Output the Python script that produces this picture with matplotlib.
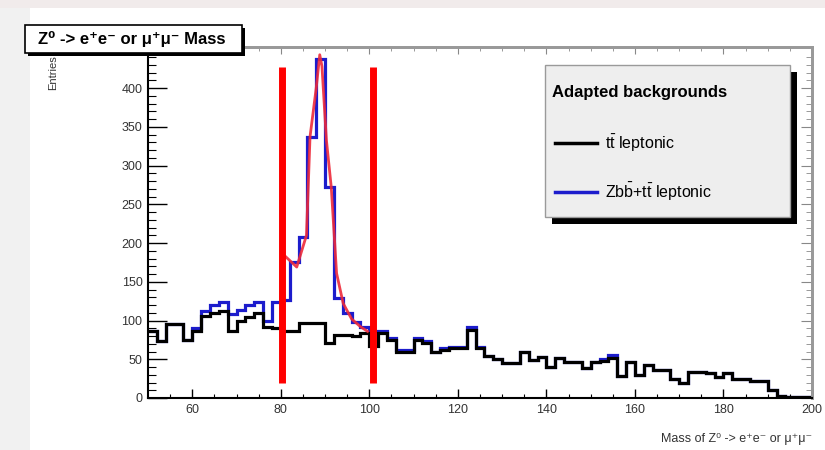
import numpy as np
import matplotlib
matplotlib.use("Agg")
import matplotlib.pyplot as plt
from matplotlib.patches import Rectangle
from matplotlib.lines import Line2D

plt.rcParams['font.family'] = ['Liberation Sans', 'DejaVu Sans']
plt.rcParams['mathtext.fontset'] = 'custom'
plt.rcParams['mathtext.rm'] = 'Liberation Sans'
plt.rcParams['mathtext.it'] = 'Liberation Sans:italic'
plt.rcParams['mathtext.bf'] = 'Liberation Sans:bold'

# ---- histogram binning (GeV) ----
mass_low, mass_high, n_bins = 50, 200, 75

# ttbar leptonic background, entries per 2 GeV bin
ttbar = [86, 73, 96, 96, 75, 86, 106, 110, 112, 86,
         100, 104, 110, 92, 90, 86, 86, 97, 97, 97,
         71, 81, 81, 80, 84, 67, 84, 75, 60, 60,
         75, 71, 59, 62, 64, 64, 88, 64, 54, 50,
         45, 45, 59, 49, 53, 40, 52, 47, 46, 39,
         47, 48, 52, 28, 46, 30, 42, 36, 36, 24,
         20, 34, 33, 32, 27, 32, 25, 25, 22, 22,
         10, 2, 1, 1, 1]

# Zbb + ttbar leptonic (stacked total), entries per 2 GeV bin
zbb_plus_ttbar = [86, 73, 96, 96, 75, 90, 112, 120, 124, 108,
                  114, 120, 124, 100, 124, 126, 175, 208, 337, 437,
                  272, 129, 110, 98, 92, 86, 86, 77, 62, 62,
                  78, 73, 60, 64, 66, 66, 92, 66, 54, 50,
                  45, 45, 59, 49, 53, 40, 52, 47, 46, 39,
                  47, 50, 55, 28, 46, 30, 42, 36, 36, 24,
                  20, 34, 33, 32, 27, 32, 25, 25, 22, 22,
                  10, 2, 1, 1, 1]

# Z peak fit curve
fit_mass = [80.8, 83.6, 85.8, 86.6, 88.0, 88.8, 89.3, 90.3, 91.4, 92.6, 94.1, 96.0, 98.0, 99.6]
fit_counts = [184, 169, 210, 337, 400, 443, 428, 333, 272, 161, 122, 102, 92, 86]

# mass window markers
window_edges = [80.3, 100.8]
window_span = [20, 427]

x_ticks = [60, 80, 100, 120, 140, 160, 180, 200]
y_ticks = [0, 50, 100, 150, 200, 250, 300, 350, 400]

W, H = 825, 450
fig = plt.figure(figsize=(W / 100, H / 100), dpi=100)
fig.patch.set_facecolor('white')


def fx(px):
    return px / W


def fy(py):
    return 1 - py / H


def box(x0, y0, x1, y1, **kw):
    fig.add_artist(Rectangle((fx(x0), fy(y1)), (x1 - x0) / W, (y1 - y0) / H,
                             transform=fig.transFigure, **kw))


# page margins
box(0, 0, 30, 450, fc='#f1f1f1', ec='none', zorder=-5)
box(0, 0, 825, 8, fc='#f1ebeb', ec='none', zorder=-5)

ax = fig.add_axes([fx(148), fy(398), (812 - 148) / W, (398 - 47) / H])
edges = np.linspace(mass_low, mass_high, n_bins + 1)
ax.stairs(zbb_plus_ttbar, edges, baseline=None, color='#1c1ccc', lw=2.3)
ax.stairs(ttbar, edges, baseline=None, color='black', lw=2.3)
ax.plot(fit_mass, fit_counts, color='#ee2a3a', lw=2, alpha=0.9)
ax.vlines(window_edges, window_span[0], window_span[1], color='#ff0000', lw=5)
ax.set_xlim(mass_low, mass_high)
ax.set_ylim(0, 453)

ax.set_xticks(x_ticks)
ax.set_xticks(np.arange(55, 200, 5), minor=True)
ax.set_yticks(y_ticks)
ax.set_yticks(np.arange(0, 450, 10), minor=True)
ax.tick_params(axis='y', which='major', direction='in', length=14, width=1,
               labelsize=9, pad=4, labelcolor='#333333')
ax.tick_params(axis='y', which='minor', direction='in', length=6, width=0.8)
ax.tick_params(axis='x', which='major', direction='in', length=6.5, width=1,
               labelsize=9, pad=4, labelcolor='#333333')
ax.tick_params(axis='x', which='minor', direction='in', length=3, width=0.8)
for s in ('left', 'bottom'):
    ax.spines[s].set_linewidth(1.5)
for s in ('top', 'right'):
    ax.spines[s].set_color('#999999')
    ax.spines[s].set_linewidth(2)

secx = ax.secondary_xaxis('top')
secx.set_xticks(x_ticks)
secx.set_xticks(np.arange(55, 200, 5), minor=True)
secx.tick_params(axis='x', which='major', direction='in', length=5, color='#888888', labeltop=False)
secx.tick_params(axis='x', which='minor', direction='in', length=3, color='#888888')
secx.spines['top'].set_color('#999999')
secx.spines['top'].set_linewidth(2)

secy = ax.secondary_yaxis('right')
secy.set_yticks(y_ticks)
secy.set_yticks(np.arange(0, 450, 10), minor=True)
secy.tick_params(axis='y', which='major', direction='in', length=8, color='#888888', labelright=False)
secy.tick_params(axis='y', which='minor', direction='in', length=4, color='#888888')
secy.spines['right'].set_color('#999999')
secy.spines['right'].set_linewidth(2)

# title box
box(28, 28, 245, 56, fc='black', ec='none')
box(25, 25, 242, 53, fc='white', ec='black', lw=1.2)
fig.text(fx(132), fy(39), 'Z⁰ -> e⁺e⁻ or μ⁺μ⁻ Mass', ha='center', va='center',
         fontsize=12, fontweight='bold')

# axis labels
fig.text(fx(53), fy(55), 'Entries', rotation=90, ha='center', va='top', fontsize=8,
         color='#333333')
fig.text(fx(812), fy(439), 'Mass of Z⁰ -> e⁺e⁻ or μ⁺μ⁻', ha='right', va='center',
         fontsize=9, color='#333333')

# legend
box(552, 72, 797, 224, fc='black', ec='none')
box(545, 65, 790, 217, fc='#eeeeee', ec='#9a9a9a', lw=1)
fig.text(fx(552), fy(92), 'Adapted backgrounds', ha='left', va='center',
         fontsize=12, fontweight='bold')
fig.add_artist(Line2D([fx(555), fx(597)], [fy(143)] * 2, color='black', lw=2.5,
                      transform=fig.transFigure))
fig.text(fx(605), fy(143), r'$\mathrm{t\bar{t}}$ leptonic', ha='left', va='center',
         fontsize=11.5)
fig.add_artist(Line2D([fx(555), fx(597)], [fy(192)] * 2, color='#1c1ccc', lw=2.5,
                      transform=fig.transFigure))
fig.text(fx(605), fy(192), r'$\mathrm{Zb\bar{b}}$+$\mathrm{t\bar{t}}$ leptonic',
         ha='left', va='center', fontsize=11.5)

fig.savefig('out.png', dpi=100, facecolor=fig.get_facecolor())
